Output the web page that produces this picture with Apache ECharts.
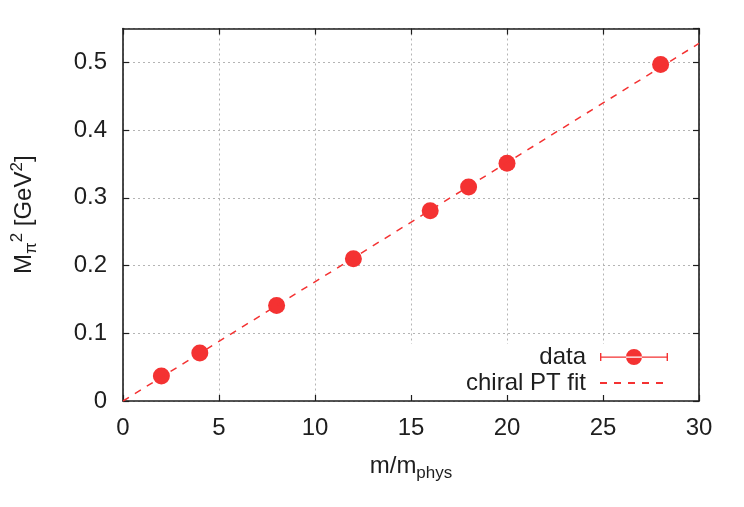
<!DOCTYPE html>
<html>
<head>
<meta charset="utf-8">
<script src="https://cdn.jsdelivr.net/npm/echarts@6/dist/echarts.min.js"></script>
<style>
  html, body { margin: 0; padding: 0; background: #fff; }
  #chart { width: 744px; height: 507px; }
</style>
</head>
<body>
<div id="chart"></div>
<script>
// values
const massRatio = [2, 4, 8, 12, 16, 18, 20, 28];
const pionMassSq = [0.037, 0.071, 0.141, 0.210, 0.281, 0.316, 0.351, 0.497];
const fitX = [0, 30];
const fitY = [0, 0.528];
const seriesNames = ['data', 'chiral PT fit'];

const red = '#f43232';
const ink = '#1e1e1e';
const font = 'Liberation Sans';

// 误差棒 + 圆点 的图例图标
const errbarIcon = 'path://M0,4 h1.4 v8 h-1.4 Z M66.6,4 h1.4 v8 h-1.4 Z M0,7.4 h68 v1.3 h-68 Z ' +
  'M26,8 a8,8 0 1,0 16,0 a8,8 0 1,0 -16,0 Z';

const pts = massRatio.map((x, i) => [x, pionMassSq[i]]);
const fitPts = fitX.map((x, i) => [x, fitY[i]]);

const chart = echarts.init(document.getElementById('chart'), null, { renderer: 'canvas' });

const frame = { show: true, onZero: false, lineStyle: { color: ink, width: 1.6 } };
const tick = { show: true, inside: true, length: 6, lineStyle: { color: ink, width: 1.2 } };
const grid = { show: true, lineStyle: { color: '#b4b4b4', width: 1, type: [2, 3] } };

chart.setOption({
  animation: false,
  textStyle: { fontFamily: font },
  grid: { left: 123, right: 45, top: 28.5, bottom: 106, containLabel: false },
  xAxis: [{
    type: 'value', min: 0, max: 30, interval: 5,
    name: 'm/m{sub|phys}', nameLocation: 'middle', nameGap: 50,
    nameTextStyle: {
      color: ink, fontSize: 24, fontFamily: font,
      rich: { sub: { fontSize: 17, fontFamily: font, color: ink, padding: [14, 0, 0, 0] } }
    },
    axisLine: frame,
    axisTick: tick,
    axisLabel: { color: ink, fontSize: 24, margin: 15, fontFamily: font },
    splitLine: grid
  }, {
    type: 'value', position: 'top', min: 0, max: 30, interval: 5,
    axisLine: frame,
    axisTick: tick,
    axisLabel: { show: false },
    splitLine: { show: false }
  }],
  yAxis: [{
    type: 'value', min: 0, max: 0.55, interval: 0.1,
    name: 'M{sub|π}{sup|2} [GeV{sup|2}]', nameLocation: 'middle', nameRotate: 90, nameGap: 83,
    nameTextStyle: {
      color: ink, fontSize: 24, fontFamily: font,
      rich: {
        sub: { fontSize: 17, fontFamily: font, color: ink, padding: [14, 0, 0, 0] },
        sup: { fontSize: 17, fontFamily: font, color: ink, padding: [0, 0, 14, 0] }
      }
    },
    axisLine: frame,
    axisTick: tick,
    axisLabel: { color: ink, fontSize: 24, margin: 16, fontFamily: font, showMaxLabel: false },
    splitLine: grid
  }, {
    type: 'value', position: 'right', min: 0, max: 0.55, interval: 0.1,
    axisLine: frame,
    axisTick: tick,
    axisLabel: { show: false },
    splitLine: { show: false }
  }],
  legend: {
    // 白底盖住网格线，和原图一样
    orient: 'vertical', right: 65, top: 344, align: 'right',
    padding: [1, 10, 0, 62], backgroundColor: '#fff',
    itemWidth: 68, itemHeight: 16, itemGap: 2,
    textStyle: { color: ink, fontSize: 24, fontFamily: font, padding: [0, 9, 0, 0] },
    data: [
      { name: seriesNames[0], icon: errbarIcon },
      { name: seriesNames[1], itemStyle: { opacity: 0 } }
    ]
  },
  series: [{
    name: seriesNames[1], type: 'line', data: fitPts, symbol: 'none',
    xAxisIndex: 0, yAxisIndex: 0,
    lineStyle: { color: red, width: 1.5, type: [7, 7] },
    itemStyle: { color: red }
  }, {
    name: seriesNames[0], type: 'scatter', data: pts, symbol: 'circle', symbolSize: 17,
    xAxisIndex: 0, yAxisIndex: 0,
    itemStyle: { color: red, opacity: 1 }
  }]
});
</script>
</body>
</html>
